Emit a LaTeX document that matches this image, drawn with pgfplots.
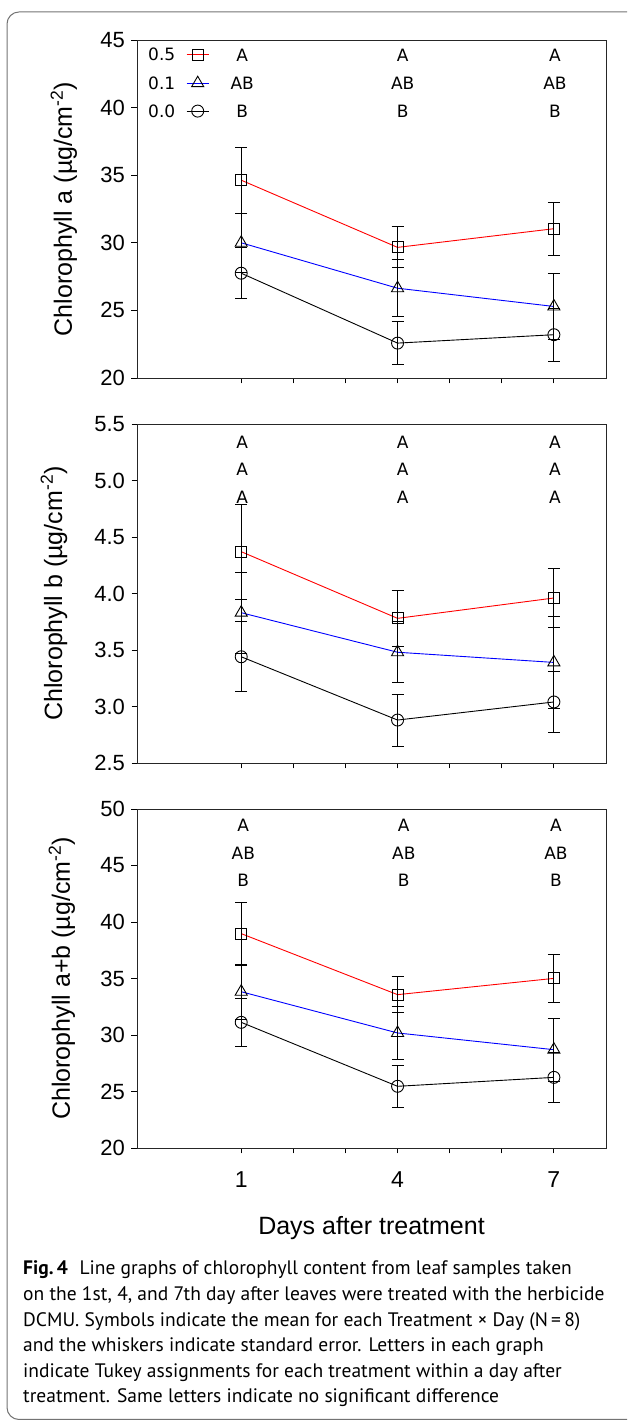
\documentclass[border=0pt]{standalone}
\usepackage{fontspec}
\setmainfont{Liberation Sans}
\newfontfamily\letterfont{DejaVu Sans}
\newfontfamily\capfont{PT Sans}
\usepackage{pgfplots}
\usepackage{pgfplotstable}
\pgfplotsset{compat=1.18}

% Chlorophyll a
\pgfplotstableread{
x y e
1 34.63 2.43
4 29.66 1.52
7 31.04 1.98
}\aHi
\pgfplotstableread{
x y e
1 30.00 2.20
4 26.64 2.10
7 25.29 2.41
}\aMid
\pgfplotstableread{
x y e
1 27.75 1.90
4 22.58 1.60
7 23.20 1.97
}\aLo
% Chlorophyll b
\pgfplotstableread{
x y e
1 4.37 0.42
4 3.78 0.25
7 3.96 0.26
}\bHi
\pgfplotstableread{
x y e
1 3.83 0.36
4 3.48 0.27
7 3.39 0.41
}\bMid
\pgfplotstableread{
x y e
1 3.44 0.31
4 2.88 0.23
7 3.04 0.27
}\bLo
% Chlorophyll a+b
\pgfplotstableread{
x y e
1 38.97 2.80
4 33.57 1.57
7 35.01 2.15
}\tHi
\pgfplotstableread{
x y e
1 33.83 2.45
4 30.18 2.33
7 28.70 2.80
}\tMid
\pgfplotstableread{
x y e
1 31.12 2.10
4 25.46 1.85
7 26.25 2.20
}\tLo

\newcommand\lett{\letterfont\fontsize{17}{17}\selectfont}
\newcommand\capf{\capfont\fontsize{19.5}{25.6}\selectfont}
\newcommand\labf{\fontsize{25}{25}\selectfont}

\pgfplotsset{
  panel/.style={
    scale only axis, width=469pt, height=338pt,
    xmin=-1, xmax=8,
    xtick={1,2,3,4,5,6,7},
    xticklabels={},
    xtick pos=bottom, ytick pos=left,
    tick align=outside,
    major tick length=5.5pt,
    tick style={black, line width=0.9pt},
    axis line style={line width=0.9pt, black!85},
    /pgf/number format/assume math mode=true,
    yticklabel style={font=\fontsize{22}{22}\selectfont, xshift=-3pt},
    xticklabel style={font=\fontsize{23}{23}\selectfont, yshift=-15pt},
    clip=false,
  },
  ser/.style={line width=0.9pt, mark options={black, solid, line width=0.9pt},
    error bars/y dir=both, error bars/y explicit,
    error bars/error bar style={black, line width=0.9pt},
    error bars/error mark options={rotate=90, mark size=6pt, black, line width=0.9pt}},
  sHi/.style={ser, red, mark=square, mark size=5.5pt},
  sMid/.style={ser, blue, mark=triangle, mark size=7pt},
  sLo/.style={ser, black, mark=o, mark size=6pt},
}

\begin{document}
\begin{tikzpicture}[x=1pt,y=1pt]
\useasboundingbox (0,0) rectangle (627,1420);
\begin{scope}
\clip (0,0) rectangle (627,1420);
\draw[black!55, line width=1pt, rounded corners=12pt] (7,0.5) rectangle (660,1408);
\end{scope}

% ---------- Panel 1: Chlorophyll a
\begin{axis}[panel, at={(137pt,1042pt)}, anchor=south west,
  ymin=20, ymax=45, ytick={20,25,30,35,40,45},
  every axis y label/.style={at={(axis description cs:-0.156,0.5)}, rotate=90, anchor=center, font=\labf},
  ylabel={Chlorophyll a (µg/cm\textsuperscript{-2})},
  legend style={at={(axis description cs:0.0235,0.976)}, anchor=north west,
    draw=none, fill=none, inner sep=0pt, font=\lett, row sep=15.5pt, column sep=11pt,
    nodes={inner sep=0pt, text height=12.4pt, text depth=0pt}},
  legend plot pos=right,
  legend image code/.code={\draw[mark repeat=2,mark phase=2,#1] plot coordinates {(0pt,0pt) (11pt,0pt) (22pt,0pt)};},
]
\addplot[sHi] table[x=x,y=y,y error=e]{\aHi};
\addlegendentry{0.5}
\addplot[sMid] table[x=x,y=y,y error=e]{\aMid};
\addlegendentry{0.1}
\addplot[sLo] table[x=x,y=y,y error=e]{\aLo};
\addlegendentry{0.0}
\node[font=\lett] at (axis cs:1.02,43.85) {A};
\node[font=\lett] at (axis cs:1.02,41.76) {AB};
\node[font=\lett] at (axis cs:1.02,39.72) {B};
\node[font=\lett] at (axis cs:4.1,43.85) {A};
\node[font=\lett] at (axis cs:4.1,41.76) {AB};
\node[font=\lett] at (axis cs:4.1,39.72) {B};
\node[font=\lett] at (axis cs:7.02,43.85) {A};
\node[font=\lett] at (axis cs:7.02,41.76) {AB};
\node[font=\lett] at (axis cs:7.02,39.72) {B};
\end{axis}

% ---------- Panel 2: Chlorophyll b
\begin{axis}[panel, at={(137pt,657pt)}, anchor=south west, height=339pt,
  ymin=2.5, ymax=5.5, ytick={2.5,3.0,3.5,4.0,4.5,5.0,5.5},
  yticklabel style={/pgf/number format/.cd, fixed, fixed zerofill, precision=1},
  every axis y label/.style={at={(axis description cs:-0.177,0.5)}, rotate=90, anchor=center, font=\labf},
  ylabel={Chlorophyll b (µg/cm\textsuperscript{-2})},
]
\addplot[sHi] table[x=x,y=y,y error=e]{\bHi};
\addplot[sMid] table[x=x,y=y,y error=e]{\bMid};
\addplot[sLo] table[x=x,y=y,y error=e]{\bLo};
\node[font=\lett] at (axis cs:1.02,5.34) {A};
\node[font=\lett] at (axis cs:1.02,5.10) {A};
\node[font=\lett] at (axis cs:1.02,4.85) {A};
\node[font=\lett] at (axis cs:4.1,5.34) {A};
\node[font=\lett] at (axis cs:4.1,5.10) {A};
\node[font=\lett] at (axis cs:4.1,4.85) {A};
\node[font=\lett] at (axis cs:7.02,5.34) {A};
\node[font=\lett] at (axis cs:7.02,5.10) {A};
\node[font=\lett] at (axis cs:7.02,4.85) {A};
\end{axis}

% ---------- Panel 3: Chlorophyll a+b
\begin{axis}[panel, at={(137pt,272pt)}, anchor=south west, height=339pt,
  ymin=20, ymax=50, ytick={20,25,30,35,40,45,50},
  xticklabels={1,,,4,,,7},
  every axis y label/.style={at={(axis description cs:-0.16,0.5)}, rotate=90, anchor=center, font=\labf},
  ylabel={Chlorophyll a+b (µg/cm\textsuperscript{-2})},
  every axis x label/.style={at={(axis description cs:0.5,-0.236)}, anchor=center, font=\labf},
  xlabel={Days after treatment},
]
\addplot[sHi] table[x=x,y=y,y error=e]{\tHi};
\addplot[sMid] table[x=x,y=y,y error=e]{\tMid};
\addplot[sLo] table[x=x,y=y,y error=e]{\tLo};
\node[font=\lett] at (axis cs:1.04,48.55) {A};
\node[font=\lett] at (axis cs:1.04,46.10) {AB};
\node[font=\lett] at (axis cs:1.04,43.66) {B};
\node[font=\lett] at (axis cs:4.12,48.55) {A};
\node[font=\lett] at (axis cs:4.12,46.10) {AB};
\node[font=\lett] at (axis cs:4.12,43.66) {B};
\node[font=\lett] at (axis cs:7.04,48.55) {A};
\node[font=\lett] at (axis cs:7.04,46.10) {AB};
\node[font=\lett] at (axis cs:7.04,43.66) {B};
\end{axis}

% ---------- Caption
\begin{scope}[every node/.style={anchor=base west, inner sep=0pt, font=\capf}]
\node at (23,145) {\textbf{Fig.\,4}\hspace{0.6em}Line graphs of chlorophyll content from leaf samples taken};
\node at (23,119.4) {on the 1st, 4, and 7th day after leaves were treated with the herbicide};
\node at (23,93.8) {DCMU. Symbols indicate the mean for each Treatment × Day (N\,=\,8)};
\node at (23,68.2) {and the whiskers indicate standard error. Letters in each graph};
\node at (23,42.6) {indicate Tukey assignments for each treatment within a day after};
\node at (23,17) {treatment. Same letters indicate no significant difference};
\end{scope}
\end{tikzpicture}
\end{document}
